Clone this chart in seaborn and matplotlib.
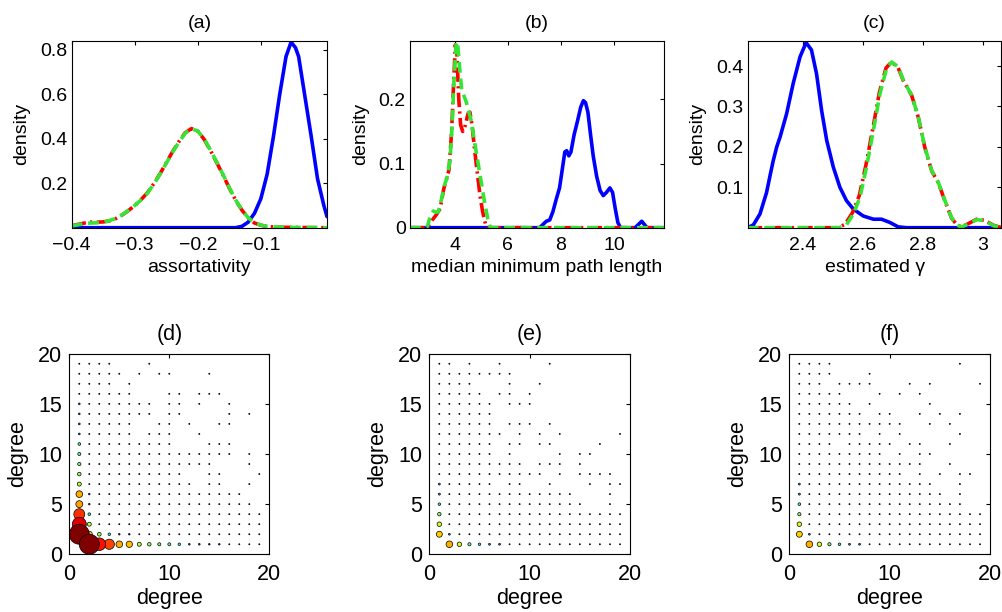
import numpy as np
import pandas as pd
import matplotlib
matplotlib.use("Agg")
import matplotlib.pyplot as plt
import seaborn as sns
from matplotlib.colors import FuncNorm

# ---------------- data: top row density curves ----------------
A_BLUE_X = [-0.40, -0.30, -0.20, -0.14, -0.13, -0.12, -0.11, -0.10, -0.09, -0.08, -0.07, -0.06,
            -0.052, -0.045, -0.04, -0.03, -0.02, -0.01, 0.0, 0.005]
A_BLUE_Y = [0.0, 0.0, 0.0, 0.0, 0.006, 0.025, 0.065, 0.13, 0.24, 0.41, 0.60, 0.77,
            0.835, 0.81, 0.77, 0.59, 0.41, 0.22, 0.10, 0.05]
A_GREEN_X = [-0.40, -0.39, -0.38, -0.37, -0.36, -0.35, -0.34, -0.33, -0.32, -0.31, -0.30, -0.29,
             -0.28, -0.27, -0.26, -0.25, -0.24, -0.23, -0.22, -0.21, -0.20, -0.19, -0.18, -0.17,
             -0.16, -0.15, -0.14, -0.13, -0.12, -0.11, -0.10, -0.09, -0.07, -0.04, 0.005]
A_GREEN_Y = [0.008, 0.013, 0.018, 0.021, 0.022, 0.025, 0.032, 0.042, 0.058, 0.078, 0.10, 0.125,
             0.155, 0.195, 0.24, 0.29, 0.34, 0.385, 0.425, 0.445, 0.435, 0.40, 0.35, 0.295,
             0.24, 0.18, 0.125, 0.08, 0.045, 0.022, 0.012, 0.006, 0.002, 0.001, 0.0]
A_RED_X = [-0.40, -0.39, -0.38, -0.37, -0.36, -0.35, -0.34, -0.33, -0.32, -0.31, -0.30, -0.29,
           -0.28, -0.27, -0.26, -0.25, -0.24, -0.23, -0.22, -0.21, -0.20, -0.19, -0.18, -0.17,
           -0.16, -0.15, -0.14, -0.13, -0.12, -0.11, -0.10, -0.09, -0.07, -0.04, 0.005]
A_RED_Y = [0.009, 0.015, 0.021, 0.025, 0.025, 0.026, 0.031, 0.041, 0.057, 0.077, 0.10, 0.126,
           0.157, 0.197, 0.242, 0.292, 0.342, 0.387, 0.427, 0.446, 0.434, 0.398, 0.348, 0.293,
           0.238, 0.178, 0.124, 0.079, 0.044, 0.021, 0.011, 0.005, 0.002, 0.001, 0.0]

B_BLUE_X = [2.31, 7.2, 7.35, 7.45, 7.58, 7.7, 7.83, 7.95, 8.05, 8.15, 8.22, 8.3, 8.38, 8.5, 8.62,
            8.75, 8.85, 8.93, 9.02, 9.12, 9.22, 9.35, 9.48, 9.6, 9.72, 9.85, 9.95, 10.05, 10.15,
            10.25, 10.8, 10.95, 11.05, 11.15, 11.25, 11.89]
B_BLUE_Y = [0.0, 0.0, 0.006, 0.01, 0.012, 0.025, 0.045, 0.062, 0.09, 0.118, 0.12, 0.112, 0.118,
            0.145, 0.165, 0.188, 0.198, 0.195, 0.18, 0.145, 0.112, 0.08, 0.058, 0.05, 0.055,
            0.062, 0.055, 0.03, 0.008, 0.0, 0.0, 0.006, 0.01, 0.005, 0.0, 0.0]
B_GREEN_X = [2.31, 2.95, 3.07, 3.19, 3.3, 3.38, 3.5, 3.6, 3.7, 3.82, 3.9, 3.97, 4.05, 4.1, 4.18,
             4.26, 4.35, 4.44, 4.53, 4.63, 4.72, 4.82, 4.92, 5.0, 5.1, 5.19, 5.27, 5.35, 11.89]
B_GREEN_Y = [0.0, 0.0, 0.017, 0.026, 0.024, 0.025, 0.045, 0.065, 0.077, 0.105, 0.16, 0.23, 0.285,
             0.29, 0.25, 0.215, 0.205, 0.195, 0.18, 0.165, 0.14, 0.115, 0.09, 0.07, 0.045,
             0.025, 0.008, 0.0, 0.0]
B_RED_X = [2.31, 2.9, 3.0, 3.15, 3.3, 3.45, 3.58, 3.68, 3.78, 3.88, 3.95, 4.02, 4.08, 4.15, 4.22,
           4.3, 4.4, 4.5, 4.57, 4.65, 4.75, 4.85, 4.95, 5.05, 5.13, 5.2, 11.89]
B_RED_Y = [0.0, 0.0, 0.003, 0.012, 0.02, 0.03, 0.06, 0.075, 0.09, 0.15, 0.22, 0.285, 0.27, 0.2,
           0.16, 0.15, 0.16, 0.178, 0.18, 0.16, 0.12, 0.085, 0.05, 0.025, 0.01, 0.0, 0.0]

C_BLUE_X = [2.215, 2.234, 2.256, 2.278, 2.29, 2.30, 2.312, 2.323, 2.345, 2.367, 2.39, 2.41, 2.428,
            2.445, 2.462, 2.479, 2.501, 2.523, 2.545, 2.568, 2.601, 2.635, 2.662, 2.69, 2.718,
            2.746, 3.063]
C_BLUE_Y = [0.0, 0.007, 0.034, 0.087, 0.13, 0.165, 0.20, 0.224, 0.282, 0.357, 0.423, 0.458, 0.44,
            0.381, 0.29, 0.216, 0.15, 0.10, 0.067, 0.046, 0.029, 0.021, 0.021, 0.013, 0.002,
            0.0, 0.0]
C_GREEN_X = [2.215, 2.52, 2.545, 2.568, 2.59, 2.612, 2.635, 2.657, 2.679, 2.696, 2.718, 2.735,
             2.75, 2.763, 2.785, 2.807, 2.83, 2.852, 2.874, 2.896, 2.915, 2.93, 2.952, 2.98,
             3.008, 3.036, 3.063]
C_GREEN_Y = [0.0, 0.0, 0.007, 0.034, 0.075, 0.15, 0.241, 0.332, 0.394, 0.41, 0.398, 0.365, 0.345,
             0.328, 0.274, 0.199, 0.141, 0.112, 0.067, 0.025, 0.006, 0.002, 0.009, 0.02, 0.017,
             0.005, 0.0]
C_RED_X = [2.215, 2.515, 2.54, 2.565, 2.588, 2.61, 2.633, 2.655, 2.677, 2.695, 2.717, 2.735,
           2.75, 2.763, 2.785, 2.807, 2.83, 2.852, 2.874, 2.896, 2.915, 2.93, 2.952, 2.98,
           3.008, 3.036, 3.063]
C_RED_Y = [0.0, 0.0, 0.008, 0.037, 0.08, 0.155, 0.245, 0.335, 0.395, 0.41, 0.397, 0.364, 0.344,
           0.327, 0.273, 0.198, 0.14, 0.111, 0.066, 0.024, 0.006, 0.002, 0.01, 0.021, 0.018,
           0.006, 0.0]

# ---------------- data: bottom row degree-degree dots ----------------
D_ROWS = {
    19: [1, 2, 3, 4, 8],
    18: [1, 2, 3, 4, 5, 7, 9, 10, 14],
    17: [1, 2, 3, 4, 6],
    16: [1, 2, 3, 4, 5, 6, 10, 11, 13, 14, 15],
    15: [1, 2, 3, 4, 5, 6, 7, 8, 10, 11, 13, 16],
    14: [1, 2, 3, 4, 5, 6, 7, 8, 10, 11, 16, 18],
    13: [1, 2, 3, 4, 5, 6, 9, 10, 12, 15, 16],
    12: [1, 2, 3, 4, 5, 6, 8, 9, 10, 13],
    11: [1, 2, 3, 4, 5, 6, 7, 8, 9, 10, 14, 15, 16],
    10: [1, 2, 3, 4, 5, 6, 7, 8, 9, 10, 11, 12, 13, 14, 15, 16, 18],
    9: [1, 2, 3, 4, 5, 6, 7, 8, 9, 10, 11, 12, 13, 14, 18],
    8: [1, 2, 3, 4, 5, 6, 7, 8, 9, 10, 11, 14, 15, 19],
    7: [1, 2, 3, 4, 5, 6, 7, 8, 9, 10, 11, 12, 14, 15, 18],
    6: [1, 2, 3, 4, 5, 6, 7, 8, 9, 10, 11, 12, 13, 14, 15, 16, 17],
    5: [1, 2, 3, 4, 5, 6, 7, 8, 9, 10, 11, 12, 13, 14, 15, 16, 17, 18],
    4: [1, 2, 3, 4, 5, 6, 7, 8, 9, 10, 11, 12, 13, 14, 15, 16, 17, 18, 19],
    3: [1, 2, 3, 4, 5, 6, 7, 8, 9, 10, 11, 12, 13, 14, 15, 16, 17, 18, 19],
    2: [1, 2, 3, 4, 5, 6, 7, 8, 9, 10, 11, 12, 13, 14, 15, 16, 17, 18, 19],
    1: [2, 3, 4, 5, 6, 7, 8, 9, 10, 11, 12, 13, 14, 15, 16, 17, 18, 19],
}
D_BIG_X = [1, 2, 1, 3, 1, 4, 1, 5, 1, 6, 2, 1, 7, 2, 3, 1, 8, 1, 9, 1, 10, 1, 11, 2, 4,
           1, 1, 1, 1, 12, 13, 14, 15, 2, 2, 5, 6]
D_BIG_Y = [2, 1, 3, 1, 4, 1, 5, 1, 6, 1, 2, 7, 1, 3, 2, 8, 1, 9, 1, 10, 1, 11, 1, 4, 2,
           12, 13, 14, 15, 1, 1, 1, 1, 5, 6, 2, 2]
D_BIG_W = [100, 100, 49, 40, 30, 26, 12, 11, 11, 10, 9, 4, 4, 4, 3.5, 3.2, 3.2, 2.6, 2.4, 2.3,
           2.2, 1.8, 1.6, 1.8, 1.6, 0.8, 0.8, 0.7, 0.7, 0.7, 0.7, 0.6, 0.6, 0.6, 0.6, 0.6, 0.6]

E_ROWS = {
    19: [1, 2, 4, 7, 12],
    18: [1, 2, 3, 4, 5, 6, 7, 8],
    17: [1, 2, 3, 4, 8, 11],
    16: [1, 2, 3, 4, 5, 7, 8, 10],
    15: [1, 2, 3, 4, 5, 6, 8, 9, 10],
    14: [1, 2, 3, 4, 5, 6],
    13: [1, 2, 3, 4, 5, 6, 8, 9, 10, 12],
    12: [1, 2, 3, 4, 5, 6, 7, 9, 11, 13, 19],
    11: [1, 2, 3, 4, 5, 6, 8, 9, 11, 12, 17],
    10: [1, 2, 3, 4, 5, 6, 8, 13, 15, 16],
    9: [1, 2, 3, 4, 5, 6, 7, 8, 9, 11, 12, 13, 15],
    8: [1, 2, 3, 4, 5, 6, 7, 8, 9, 10, 11, 13, 15, 16, 17, 18],
    7: [1, 2, 3, 4, 5, 6, 8, 9, 12, 16, 18, 19],
    6: [1, 2, 3, 4, 5, 6, 7, 8, 9, 10, 11, 12, 13, 14, 18],
    5: [1, 2, 3, 4, 5, 6, 7, 8, 9, 10, 11, 12, 13, 14, 15, 18],
    4: [1, 2, 3, 4, 5, 6, 7, 8, 9, 10, 11, 12, 13, 14, 15, 16, 17, 18, 19],
    3: [1, 2, 3, 4, 5, 6, 7, 8, 9, 10, 11, 12, 13, 14, 15, 16, 17, 18, 19],
    2: [1, 2, 3, 4, 5, 6, 7, 8, 9, 10, 11, 12, 13, 14, 15, 16, 17, 18, 19],
    1: [2, 3, 4, 5, 6, 7, 8, 9, 10, 11, 12, 13, 14, 15, 16, 17, 18, 19],
}
E_BIG_X = [1, 2, 1, 3, 1, 4, 1, 5, 1, 1, 6, 7, 2]
E_BIG_Y = [2, 1, 3, 1, 4, 1, 5, 1, 6, 7, 1, 1, 2]
E_BIG_W = [9, 11, 5, 5, 3, 2.5, 1.6, 1.5, 1.0, 0.9, 0.9, 0.8, 0.8]

F_ROWS = {
    19: [1, 2, 3, 4, 17],
    18: [1, 2, 3, 4, 8],
    17: [1, 2, 3, 5, 6, 7, 8, 12, 14, 19],
    16: [1, 2, 3, 4, 5, 9, 11, 13],
    15: [1, 2, 3, 4, 5, 6, 8, 14],
    14: [1, 2, 3, 4, 5, 6, 7, 9, 10, 13, 15, 17],
    13: [1, 2, 3, 4, 5, 6, 7, 8, 9, 10, 11, 14, 16],
    12: [1, 2, 3, 4, 5, 6, 7, 9, 11, 17],
    11: [1, 2, 3, 4, 6, 7, 8, 9, 10, 12, 13, 16],
    10: [1, 2, 3, 4, 5, 6, 7, 8, 9, 11, 13, 14],
    9: [1, 2, 3, 4, 5, 6, 7, 8, 9, 10, 11, 12, 13, 16],
    8: [1, 2, 3, 4, 5, 6, 7, 8, 9, 10, 11, 13, 15, 17, 18],
    7: [1, 2, 3, 4, 5, 6, 7, 8, 9, 10, 11, 12, 13, 14, 17],
    6: [1, 2, 3, 4, 5, 6, 7, 8, 9, 10, 11, 12, 13, 14, 15, 17],
    5: [1, 2, 3, 4, 5, 6, 7, 8, 9, 10, 11, 12, 13, 14, 15, 16, 17],
    4: [1, 2, 3, 4, 5, 6, 7, 8, 9, 10, 11, 12, 13, 14, 15, 16, 17, 18, 19],
    3: [1, 2, 3, 4, 5, 6, 7, 8, 9, 10, 11, 12, 13, 14, 15, 16, 17, 18, 19],
    2: [1, 2, 3, 4, 5, 6, 7, 8, 9, 10, 11, 12, 13, 14, 15, 16, 17, 18, 19],
    1: [2, 3, 4, 5, 6, 7, 8, 9, 10, 11, 12, 13, 14, 15, 16, 17, 18, 19],
}
F_BIG_X = [1, 2, 1, 3, 1, 4, 1, 5, 1, 1, 6, 7, 2]
F_BIG_Y = [2, 1, 3, 1, 4, 1, 5, 1, 6, 7, 1, 1, 2]
F_BIG_W = [9, 11, 5, 5, 2.6, 2.6, 1.8, 1.6, 1.0, 0.9, 0.9, 0.8, 0.8]
BASE_W = 0.3

TITLES_TOP = ["(a)", "(b)", "(c)"]
XLABELS_TOP = ["assortativity", "median minimum path length", "estimated \u03b3"]
TITLES_BOT = ["(d)", "(e)", "(f)"]

# ---------------- style ----------------
sns.set_theme(style="white")
plt.rcParams["font.family"] = ["Liberation Sans", "DejaVu Sans"]
plt.rcParams["axes.linewidth"] = 0.8
plt.rcParams["axes.edgecolor"] = "black"
plt.rcParams["text.color"] = "black"
plt.rcParams["axes.labelcolor"] = "black"
plt.rcParams["xtick.color"] = "black"
plt.rcParams["ytick.color"] = "black"

fig = plt.figure(figsize=(10.02, 6.12), dpi=100)
W, H = 1002.0, 612.0

def add_ax(l, r, t, b):
    return fig.add_axes([l / W, 1 - b / H, (r - l) / W, (b - t) / H])

top_axes = [add_ax(71.7, 327, 41, 227.7), add_ax(410, 664, 41, 227.7), add_ax(747.7, 1001.5, 41, 227.7)]
bot_axes = [add_ax(69.3, 269.3, 353.7, 554.3), add_ax(429.3, 630, 353.7, 554.3), add_ax(789.3, 990, 353.7, 554.3)]

BLUE, RED, GREEN = "#0000ff", "#ff0000", "#33e633"
LW = 2.6
curves = [
    (A_BLUE_X, A_BLUE_Y, A_RED_X, A_RED_Y, A_GREEN_X, A_GREEN_Y),
    (B_BLUE_X, B_BLUE_Y, B_RED_X, B_RED_Y, B_GREEN_X, B_GREEN_Y),
    (C_BLUE_X, C_BLUE_Y, C_RED_X, C_RED_Y, C_GREEN_X, C_GREEN_Y),
]
xlims = [(-0.4, 0.005), (2.31, 11.89), (2.215, 3.063)]
ylims = [(0, 0.84), (0, 0.291), (0, 0.462)]
xticks = [[-0.4, -0.3, -0.2, -0.1], [4, 6, 8, 10], [2.4, 2.6, 2.8, 3.0]]
xticklabels = [["\u22120.4", "\u22120.3", "\u22120.2", "\u22120.1"], ["4", "6", "8", "10"],
               ["2.4", "2.6", "2.8", "3"]]
yticks = [[0.2, 0.4, 0.6, 0.8], [0, 0.1, 0.2], [0.1, 0.2, 0.3, 0.4]]
yticklabels = [["0.2", "0.4", "0.6", "0.8"], ["0", "0.1", "0.2"], ["0.1", "0.2", "0.3", "0.4"]]

FS_TOP = 14
for i, ax in enumerate(top_axes):
    bx, by, rx, ry, gx, gy = curves[i]
    sns.lineplot(x=bx, y=by, color=BLUE, lw=LW, ax=ax, estimator=None)
    sns.lineplot(x=rx, y=ry, color=RED, lw=LW, ax=ax, estimator=None,
                 linestyle=(0, (4.0, 1.2, 0.6, 1.2)))
    sns.lineplot(x=gx, y=gy, color=GREEN, lw=LW, ax=ax, estimator=None,
                 linestyle=(0, (3.0, 1.6)))
    ax.set_xlim(*xlims[i])
    ax.set_ylim(*ylims[i])
    ax.set_xticks(xticks[i])
    ax.set_xticklabels(xticklabels[i])
    ax.set_yticks(yticks[i])
    ax.set_yticklabels(yticklabels[i])
    ax.tick_params(axis="both", direction="in", top=True, right=True, length=3, width=0.8,
                   labelsize=FS_TOP)
    ax.tick_params(axis="x", pad=7)
    ax.tick_params(axis="y", pad=3)
    ax.set_xlabel(XLABELS_TOP[i], fontsize=FS_TOP, labelpad=3)
    ax.set_ylabel("density", fontsize=FS_TOP, labelpad=7)
    ax.set_title(TITLES_TOP[i], fontsize=FS_TOP, pad=9)
    for sp in ax.spines.values():
        sp.set_visible(True)
        sp.set_color("black")

# colour norm for dots: compressed log scale
def fwd(v):
    v = np.asarray(v, dtype=float)
    return np.clip(np.log10(np.maximum(v, 1e-6)) + 0.3, 0, None) ** 0.6

def inv(c):
    c = np.asarray(c, dtype=float)
    return 10 ** (np.clip(c, 0, None) ** (1 / 0.6) - 0.3)

JET = matplotlib.colormaps["jet"]
grid_sets = [(D_ROWS, D_BIG_X, D_BIG_Y, D_BIG_W), (E_ROWS, E_BIG_X, E_BIG_Y, E_BIG_W),
             (F_ROWS, F_BIG_X, F_BIG_Y, F_BIG_W)]
FS_BOT = 15.5
for i, ax in enumerate(bot_axes):
    rows, bxs, bys, bws = grid_sets[i]
    vals = {}
    for yv, xs in rows.items():
        for xv in xs:
            vals[(xv, yv)] = BASE_W
    for xv, yv, wv in zip(bxs, bys, bws):
        vals[(xv, yv)] = wv
    df = pd.DataFrame([(k[0], k[1], v) for k, v in vals.items()], columns=["x", "y", "w"])
    df = df.sort_values("w").reset_index(drop=True)
    norm = FuncNorm((fwd, inv), vmin=0.5, vmax=100)
    sns.scatterplot(data=df, x="x", y="y", hue="w", size="w", palette=JET, hue_norm=norm,
                    sizes=(0, 207), size_norm=(0, 100), edgecolor="black", linewidth=0.5,
                    legend=False, ax=ax, clip_on=False, zorder=3)
    ax.set_xlim(0, 20)
    ax.set_ylim(0, 20)
    ax.set_xticks([0, 10, 20])
    ax.set_yticks([0, 5, 10, 15, 20])
    ax.tick_params(axis="both", direction="in", top=True, right=True, length=3, width=0.8,
                   labelsize=FS_BOT)
    ax.tick_params(axis="x", pad=7)
    ax.tick_params(axis="y", pad=5)
    ax.set_xlabel("degree", fontsize=FS_BOT, labelpad=2)
    ax.set_ylabel("degree", fontsize=FS_BOT, labelpad=7)
    ax.set_title(TITLES_BOT[i], fontsize=FS_BOT, pad=10)
    for sp in ax.spines.values():
        sp.set_visible(True)
        sp.set_color("black")
        sp.set_zorder(4)

fig.savefig("out.png", dpi=100, facecolor="white")
